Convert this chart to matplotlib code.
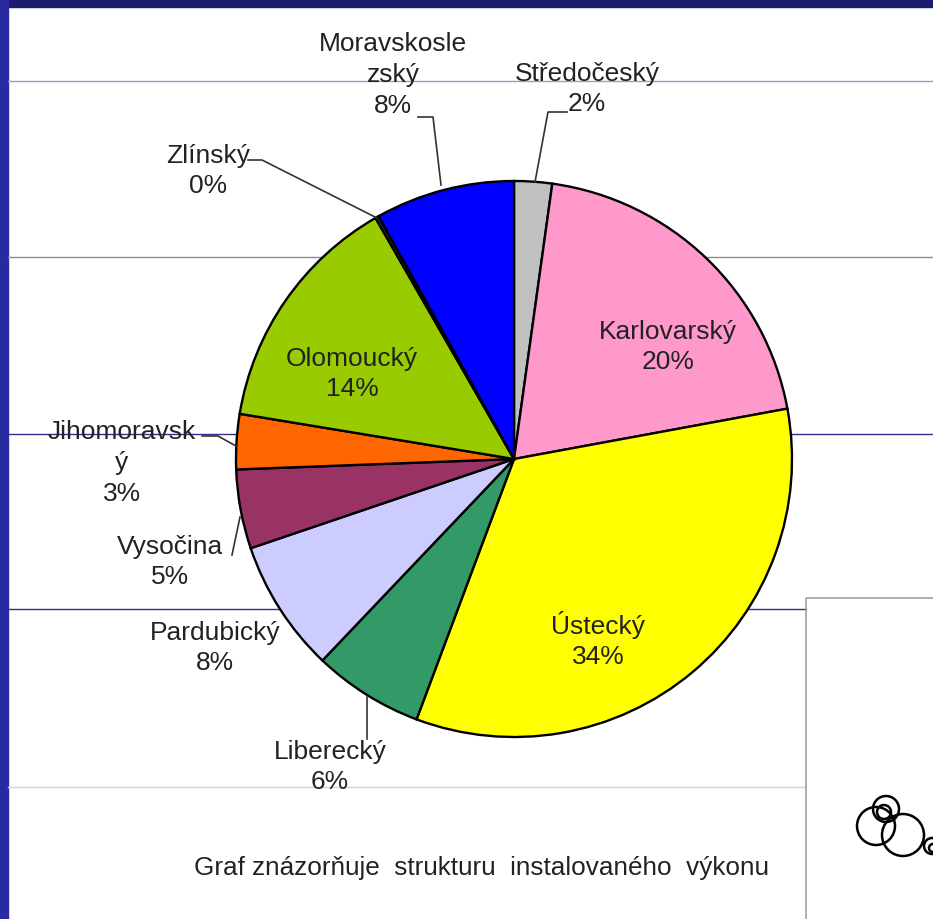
import matplotlib
matplotlib.use("Agg")
import matplotlib.pyplot as plt
from matplotlib.patches import Rectangle, Circle

plt.rcParams['font.family'] = ['Liberation Sans', 'DejaVu Sans']

# podíly krajů na instalovaném výkonu (%), po směru hodinových ručiček od 12 h
kraje = ['Středočeský', 'Karlovarský', 'Ústecký', 'Liberecký', 'Pardubický',
         'Vysočina', 'Jihomoravský', 'Olomoucký', 'Zlínský', 'Moravskoslezský']
podily = [2.2, 19.9, 33.6, 6.4, 7.7, 4.6, 3.2, 14.1, 0.2, 8.1]
barvy = ['#C0C0C0', '#FF99CC', '#FFFF00', '#339966', '#CCCCFF',
         '#993366', '#FF6600', '#99CC00', '#333333', '#0000FF']
# popisky tak, jak je Excel zalomil
popisky = ['Středočeský', 'Karlovarský', 'Ústecký', 'Liberecký', 'Pardubický',
           'Vysočina', 'Jihomoravsk\ný', 'Olomoucký', 'Zlínský', 'Moravskosle\nzský']
popis = 'Graf znázorňuje  strukturu  instalovaného  výkonu'

# rozvržení (pixely od levého horního rohu)
pozice_popisku = [(587, 89), (668, 347), (598, 640), (330, 767), (215, 648),
                  (170, 562), (122, 463), (352, 374), (208, 171), (393, 75)]
odkazy = {
    'Středočeský': [(567, 113), (548, 113), (535, 183)],
    'Liberecký': [(367, 740), (367, 698)],
    'Vysočina': [(232, 556), (240, 518)],
    'Jihomoravský': [(202, 437), (218, 437), (236, 447)],
    'Zlínský': [(248, 161), (262, 161), (377, 219)],
    'Moravskoslezský': [(418, 118), (433, 118), (441, 186)],
}

fig = plt.figure(figsize=(9.33, 9.2), dpi=100)
ax = fig.add_axes([0, 0, 1, 1])

# rám snímku
ax.add_patch(Rectangle((0, 0), 933, 8, color='#1c1c6c', zorder=0))
ax.add_patch(Rectangle((0, 0), 8, 920, color='#2a2aa0', zorder=0))

# vodorovné linky na pozadí
ax.plot([8, 933], [82, 82], color='#9c9cc4', lw=1, zorder=0)
ax.plot([8, 933], [258, 258], color='#8a8a9a', lw=1, zorder=0)
ax.plot([8, 933], [435, 435], color='#30308a', lw=1, zorder=0)
ax.plot([8, 806], [610, 610], color='#30308a', lw=1, zorder=0)
ax.plot([8, 806], [788, 788], color='#d0d0f0', lw=1, zorder=0)

wedges, _ = ax.pie(podily, colors=barvy, startangle=-90, counterclock=True,
                   center=(514, 460), radius=278,
                   wedgeprops=dict(edgecolor='black', linewidth=1.7))

for jmeno, p, (x, y) in zip(popisky, podily, pozice_popisku):
    ax.text(x, y, f'{jmeno}\n{round(p)}%', ha='center', va='center',
            fontsize=19, color='#222222', linespacing=1.35, zorder=5)

for k, body in odkazy.items():
    ax.plot([b[0] for b in body], [b[1] for b in body],
            color='#333333', lw=1.2, zorder=4)

# rámeček vpravo dole s kroužky
ax.add_patch(Rectangle((806, 599), 140, 330, fill=False, edgecolor='#a0a0a0',
                       lw=1.2, zorder=3))
for cx, cy, r in [(876, 827, 19), (903, 836, 21), (886, 810, 13),
                  (884, 813, 7), (932, 847, 8), (933, 849, 4)]:
    ax.add_patch(Circle((cx, cy), r, fill=False, edgecolor='black', lw=1.8,
                        zorder=3))

ax.text(481, 868, popis, ha='center', va='center', fontsize=18.8,
        color='#222222')

ax.set_xlim(0, 933)
ax.set_ylim(920, 0)
ax.set_aspect('auto')
ax.axis('off')

fig.savefig('out.png', dpi=100, facecolor='white')
